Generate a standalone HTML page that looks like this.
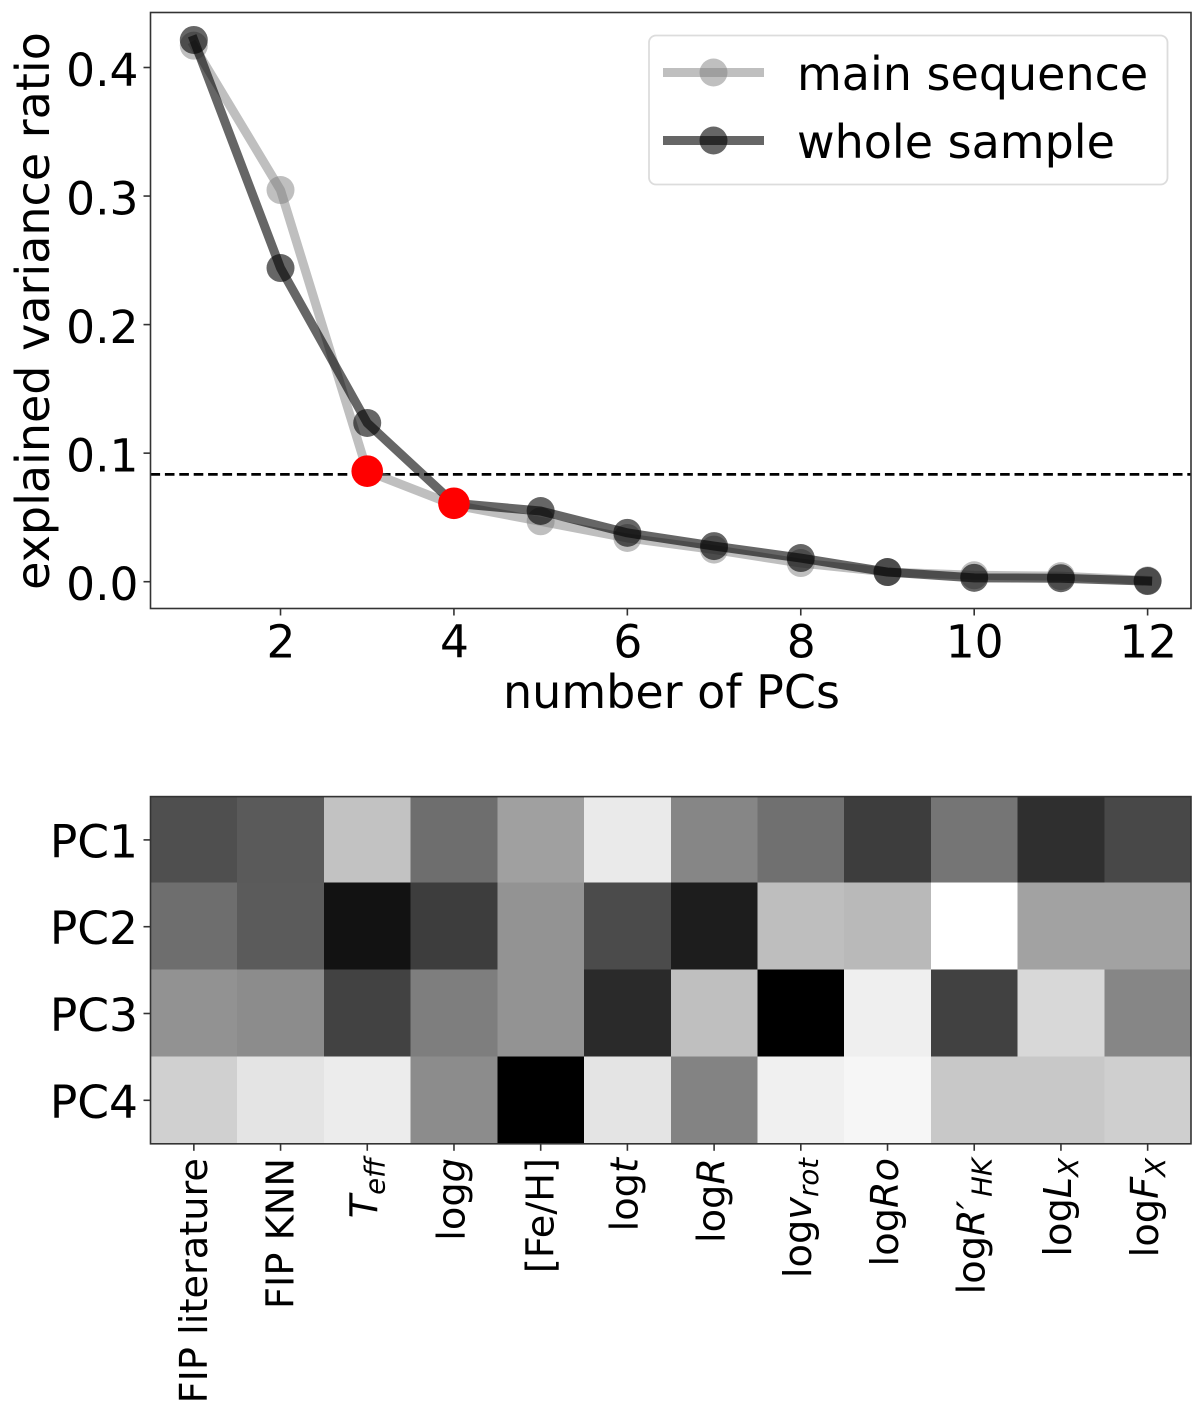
<!DOCTYPE html>
<html>
<head>
<meta charset="utf-8">
<title>Explained variance and PC loadings</title>
<style>
html,body{margin:0;padding:0;background:#fff;width:1200px;height:1420px;overflow:hidden}
svg{display:block}
text{font-family:"DejaVu Sans","Liberation Sans",sans-serif;fill:#000}
</style>
</head>
<body>
<svg id="fig" xmlns="http://www.w3.org/2000/svg" width="1200" height="1420" viewBox="0 0 1200 1420"></svg>
<script>
const pcNumbers = [1,2,3,4,5,6,7,8,9,10,11,12];
const mainSequence = [0.417,0.3047,0.086,0.0597,0.047,0.034,0.025,0.0145,0.0075,0.005,0.0043,0.001];
const wholeSample = [0.4214,0.244,0.1235,0.061,0.055,0.038,0.0277,0.0184,0.0075,0.003,0.0027,0.0005];
const threshold = 0.0835;
const highlightX = [3,4];
const highlightY = [0.086,0.061];
const xTicks = [2,4,6,8,10,12];
const yTicks = [0,0.1,0.2,0.3,0.4];
const yTickLabels = ['0.0','0.1','0.2','0.3','0.4'];
const pcNames = ['PC1','PC2','PC3','PC4'];
const featureNames = [
  [['FIP literature','n']],
  [['FIP KNN','n']],
  [['T','i'],['eff','s']],
  [['log','n'],['g','i']],
  [['[Fe/H]','n']],
  [['log','n'],['t','i']],
  [['log','n'],['R','i']],
  [['log','n'],['v','i'],['rot','s']],
  [['log','n'],['Ro','i']],
  [['log','n'],['R','i'],['\u2032\u200A','i'],['HK','s']],
  [['log','n'],['L','i'],['X','s']],
  [['log','n'],['F','i'],['X','s']]
];
const loadingsPC1 = [0.31,0.353,0.761,0.431,0.627,0.918,0.525,0.439,0.239,0.459,0.184,0.282];
const loadingsPC2 = [0.431,0.357,0.071,0.239,0.576,0.294,0.114,0.745,0.725,1,0.635,0.635];
const loadingsPC3 = [0.573,0.549,0.259,0.494,0.576,0.165,0.749,0,0.937,0.255,0.847,0.525];
const loadingsPC4 = [0.816,0.894,0.925,0.549,0,0.894,0.514,0.941,0.965,0.784,0.784,0.812];
const loadings = [loadingsPC1,loadingsPC2,loadingsPC3,loadingsPC4];

const NS = 'http://www.w3.org/2000/svg';
const fig = document.getElementById('fig');
const AX = {l:150.5, r:1191, t:12.5, b:608.5};
const HM = {l:150.5, r:1191, t:795.9, b:1143.1};
const TICK_FS = 45.5, LABEL_FS = 46, FEAT_FS = 38.3;

function xScale(v){ return 193.8 + (v - 1) * 86.71; }
function yScale(v){ return 581.7 - v * 1285.5; }
function heatX(i){ return HM.l + i * (HM.r - HM.l) / featureNames.length; }
function heatY(j){ return HM.t + j * (HM.b - HM.t) / pcNames.length; }
function grayOf(v){ const g = Math.round(v * 255); return 'rgb(' + g + ',' + g + ',' + g + ')'; }

function mk(tag, attrs, parent){
  const el = document.createElementNS(NS, tag);
  for (const k in attrs) el.setAttribute(k, attrs[k]);
  (parent || fig).appendChild(el);
  return el;
}
function group(name){
  const g = mk('g', {});
  
  
  return g;
}

/* ---------- scree plot ---------- */
const dashG = group('threshold-group');
const dash = mk('line', {x1:AX.l, x2:AX.r, y1:yScale(threshold), y2:yScale(threshold), stroke:'#000', 'stroke-width':2.8, 'stroke-dasharray':'9.6 4.8'}, dashG);



function drawSeries(values, name, color, alpha){
  const g = group(name + '-series');
  pcNumbers.forEach(function(pc, i){
    const c = mk('circle', {cx:xScale(pc), cy:yScale(values[i]), r:14, fill:color, 'fill-opacity':alpha}, g);
    
    
  });
  const pts = pcNumbers.map(function(pc, i){ return xScale(pc) + ',' + yScale(values[i]); }).join(' ');
  const line = mk('polyline', {points:pts, fill:'none', stroke:color, 'stroke-opacity':alpha, 'stroke-width':9, 'stroke-linecap':'square', 'stroke-linejoin':'round'}, g);
  
  
}
drawSeries(mainSequence, 'main-sequence', '#808080', 0.5);
drawSeries(wholeSample, 'whole-sample', '#000', 0.6);

const redG = group('highlight-group');
highlightX.forEach(function(x, i){
  const c = mk('circle', {cx:xScale(x), cy:yScale(highlightY[i]), r:15.8, fill:'#ff0000'}, redG);
  
  
});

const frame = mk('rect', {x:AX.l, y:AX.t, width:AX.r-AX.l, height:AX.b-AX.t, fill:'none', stroke:'#333', 'stroke-width':1.6});



const xAxisG = group('x-axis');
xTicks.forEach(function(t){
  const tk = mk('line', {x1:xScale(t), x2:xScale(t), y1:AX.b, y2:AX.b+7, stroke:'#333', 'stroke-width':1.6}, xAxisG);
  
  
  const lb = mk('text', {x:xScale(t)+0.5, y:657.5, 'text-anchor':'middle', 'font-size':TICK_FS}, xAxisG);
  lb.textContent = String(t);
  
  
});
const xTitle = mk('text', {x:671.5, y:708, 'text-anchor':'middle', 'font-size':LABEL_FS}, xAxisG);
xTitle.textContent = 'number of PCs';



const yAxisG = group('y-axis');
yTicks.forEach(function(t, i){
  const tk = mk('line', {x1:AX.l-7, x2:AX.l, y1:yScale(t), y2:yScale(t), stroke:'#333', 'stroke-width':1.6}, yAxisG);
  
  
  const lb = mk('text', {x:138.5, y:yScale(t)+18.5, 'text-anchor':'end', 'font-size':TICK_FS}, yAxisG);
  lb.textContent = yTickLabels[i];
  
  
});
const yTitle = mk('text', {transform:'translate(49,311) rotate(-90)', 'text-anchor':'middle', 'font-size':LABEL_FS}, yAxisG);
yTitle.textContent = 'explained variance ratio';



/* ---------- legend ---------- */
const legendG = group('legend');
const legendBox = mk('rect', {x:649, y:35.5, width:518.5, height:149, rx:7, ry:7, fill:'#fff', 'fill-opacity':0.8, stroke:'#dcdcdc', 'stroke-width':1.8}, legendG);



function legendEntry(label, color, alpha, y, name){
  const g = mk('g', {}, legendG);
  
  
  const l = mk('line', {x1:663, x2:764, y1:y, y2:y, stroke:color, 'stroke-opacity':alpha, 'stroke-width':9}, g);
  
  
  const c = mk('circle', {cx:713.5, cy:y, r:14, fill:color, 'fill-opacity':alpha}, g);
  
  
  const t = mk('text', {x:797, y:y+17.5, 'font-size':LABEL_FS}, g);
  t.textContent = label;
  
  
}
legendEntry('main sequence', '#808080', 0.5, 72.5, 'legend-entry-main-sequence');
legendEntry('whole sample', '#000', 0.6, 140.5, 'legend-entry-whole-sample');

/* ---------- heatmap ---------- */
const heatG = group('loadings-heatmap');
heatG.setAttribute('shape-rendering', 'crispEdges');
loadings.forEach(function(row, j){
  row.forEach(function(v, i){
    const r = mk('rect', {x:heatX(i), y:heatY(j), width:heatX(i+1)-heatX(i)+0.5, height:heatY(j+1)-heatY(j)+0.5, fill:grayOf(v)}, heatG);
    
    
  });
});
const heatFrame = mk('rect', {x:HM.l, y:HM.t+0.7, width:HM.r-HM.l, height:HM.b-HM.t, fill:'none', stroke:'#333', 'stroke-width':1.6});



const heatYG = group('heatmap-y-axis');
pcNames.forEach(function(n, j){
  const cy = (heatY(j) + heatY(j+1)) / 2 + 0.6;
  const tk = mk('line', {x1:HM.l-7, x2:HM.l, y1:cy, y2:cy, stroke:'#333', 'stroke-width':1.6}, heatYG);
  
  
  const lb = mk('text', {x:138, y:cy+17.5, 'text-anchor':'end', 'font-size':TICK_FS}, heatYG);
  lb.textContent = n;
  
  
});

const heatXG = group('heatmap-x-axis');
featureNames.forEach(function(parts, i){
  const cx = (heatX(i) + heatX(i+1)) / 2;
  const tk = mk('line', {x1:cx, x2:cx, y1:HM.b+0.7, y2:HM.b+7.7, stroke:'#333', 'stroke-width':1.6}, heatXG);
  
  
  const baselineOffset = parts.length > 1 ? 10.3 : 13;
  const lb = mk('text', {transform:'translate(' + (cx + baselineOffset) + ',1158) rotate(-90)', 'text-anchor':'end', 'font-size':FEAT_FS}, heatXG);
  
  
  parts.forEach(function(p){
    const s = mk('tspan', {}, lb);
    s.textContent = p[0];
    if (p[1] === 'i') s.setAttribute('font-style', 'italic');
    if (p[1] === 's') {
      s.setAttribute('font-style', 'italic');
      s.setAttribute('font-size', FEAT_FS * 0.72);
      s.setAttribute('dy', 7);
    }
  });
});
</script>
</body>
</html>
